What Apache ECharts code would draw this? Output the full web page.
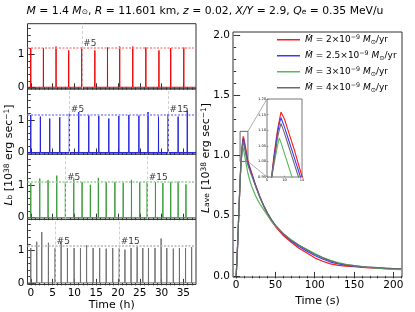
<!DOCTYPE html>
<html><head><meta charset="utf-8">
<script src="https://cdn.jsdelivr.net/npm/echarts@6/dist/echarts.min.js"></script>
<style>html,body{margin:0;padding:0;background:#fff}#c{width:415px;height:312px}</style>
</head><body><div id="c"></div>
<script>
// ---------------- DATA ----------------
// Left panels: burst times (h) and peak luminosities (1e38 erg/s)
const redTimes  = [0, 2.9, 5.8, 8.7, 11.7, 14.7, 17.6, 20.4, 23.4, 26.4, 29.4, 32.1, 35.1];
const redPeaks  = [1.20, 1.20, 1.25, 1.13, 1.22, 1.13, 1.22, 1.25, 1.25, 1.22, 1.13, 1.20, 1.22];
const redLevel  = 1.21;
const redMarks  = [5];

const blueTimes = [0, 2.2, 4.35, 6.65, 8.85, 11.0, 13.3, 15.6, 17.9, 20.2, 22.5, 24.8, 26.9, 29.3, 31.5, 33.8, 35.9];
const bluePeaks = [1.15, 1.10, 1.04, 1.08, 1.19, 1.24, 1.14, 1.12, 1.04, 1.12, 1.15, 1.13, 1.24, 1.10, 1.18, 1.10, 1.28];
const blueLevel = 1.16;
const blueMarks = [5, 15];

const greenTimes = [0, 2.06, 3.97, 5.96, 7.94, 9.86, 11.77, 13.67, 15.5, 17.3, 19.3, 21.2, 23.1, 25.0, 26.7, 28.6, 30.3, 32.1, 33.8, 35.6];
const greenPeaks = [1.06, 1.20, 1.15, 1.29, 1.09, 1.20, 1.09, 1.01, 1.22, 1.09, 1.09, 1.06, 1.16, 1.09, 1.09, 1.09, 1.06, 1.09, 1.11, 1.02];
const greenLevel = 1.10;
const greenMarks = [5, 15];

const grayTimes = [0, 1.37, 2.52, 4.05, 5.58, 6.96, 8.41, 9.94, 11.4, 12.8, 14.3, 15.8, 17.3, 18.8, 20.3, 21.6, 23.0, 24.4, 25.7, 27.0, 28.5, 29.9, 31.2, 32.7, 34.1, 35.5, 36.9];
const grayPeaks = [1.07, 1.26, 1.56, 1.23, 1.07, 1.25, 1.07, 1.07, 1.07, 1.15, 1.07, 1.07, 1.05, 1.07, 1.07, 1.02, 1.07, 1.10, 1.07, 1.07, 1.07, 1.36, 1.07, 1.05, 1.07, 1.07, 1.10];
const grayLevel = 1.13;
const grayMarks = [5, 15];

// Right panel: averaged burst light curves
const aveTime  = [0, 1, 2, 3, 4, 5, 6, 7, 8, 8.5, 9, 10, 11, 12, 13, 14, 15, 17.5, 20, 25, 30, 35, 40, 45, 50, 60, 70, 80, 90, 100, 110, 120, 130, 140, 150, 160, 170, 180, 190, 200, 210];
const aveRed   = [0, 0.12, 0.28, 0.45, 0.62, 0.78, 0.92, 1.02, 1.10, 1.13, 1.158, 1.135, 1.10, 1.065, 1.03, 0.99, 0.952, 0.90, 0.85, 0.75, 0.66, 0.58, 0.51, 0.455, 0.41, 0.335, 0.28, 0.23, 0.19, 0.15, 0.122, 0.10, 0.088, 0.081, 0.076, 0.071, 0.067, 0.064, 0.061, 0.059, 0.058];
const aveBlue  = [0, 0.12, 0.28, 0.45, 0.62, 0.78, 0.92, 1.01, 1.09, 1.12, 1.14, 1.11, 1.075, 1.04, 1.005, 0.97, 0.935, 0.89, 0.84, 0.745, 0.66, 0.585, 0.52, 0.465, 0.42, 0.345, 0.29, 0.245, 0.205, 0.17, 0.14, 0.115, 0.10, 0.088, 0.08, 0.074, 0.07, 0.066, 0.063, 0.06, 0.059];
const aveGreen = [0, 0.12, 0.28, 0.45, 0.62, 0.78, 0.93, 0.99, 1.05, 1.075, 1.06, 1.025, 0.99, 0.955, 0.92, 0.885, 0.85, 0.79, 0.74, 0.66, 0.60, 0.55, 0.50, 0.455, 0.415, 0.35, 0.30, 0.255, 0.22, 0.185, 0.155, 0.13, 0.11, 0.095, 0.085, 0.077, 0.07, 0.064, 0.058, 0.054, 0.052];
const aveGray  = [0, 0.12, 0.28, 0.45, 0.62, 0.78, 0.92, 1.00, 1.075, 1.10, 1.122, 1.09, 1.055, 1.02, 0.985, 0.95, 0.92, 0.875, 0.83, 0.74, 0.655, 0.585, 0.52, 0.465, 0.42, 0.35, 0.295, 0.255, 0.215, 0.18, 0.15, 0.125, 0.105, 0.092, 0.085, 0.078, 0.072, 0.068, 0.064, 0.061, 0.06];

const legendNames = ['2', '2.5', '3', '4'];   // Mdot in 1e-9 Msun/yr

// Tick labels
const hourTicks  = [0, 5, 10, 15, 20, 25, 30, 35];
const hourMinor  = [0,1,2,3,4,5,6,7,8,9,10,11,12,13,14,15,16,17,18,19,20,21,22,23,24,25,26,27,28,29,30,31,32,33,34,35,36,37];
const lbTicks    = [0, 1];
const lbMinor    = [0, 0.2, 0.4, 0.6, 0.8, 1.0, 1.2, 1.4, 1.6, 1.8];
const secTicks   = [0, 50, 100, 150, 200];
const secMinor   = [0,10,20,30,40,50,60,70,80,90,100,110,120,130,140,150,160,170,180,190,200,210];
const laveTicks  = [0, 0.5, 1.0, 1.5, 2.0];
const laveMinor  = [0,0.1,0.2,0.3,0.4,0.5,0.6,0.7,0.8,0.9,1.0,1.1,1.2,1.3,1.4,1.5,1.6,1.7,1.8,1.9,2.0];
const insetXTicks = [5, 10, 15];
const insetYTicks = [0.95, 1.00, 1.05, 1.10, 1.15, 1.20];

// ---------------- CHART ----------------
const F = 'DejaVu Sans';
const chart = echarts.init(document.getElementById('c'), null, {renderer: 'canvas'});

const panels = [
  {times: redTimes,   peaks: redPeaks,   level: redLevel,   marks: redMarks,   color: '#ee0000', lcol: '#ff8a8a'},
  {times: blueTimes,  peaks: bluePeaks,  level: blueLevel,  marks: blueMarks,  color: '#2222dd', lcol: '#8a8aff'},
  {times: greenTimes, peaks: greenPeaks, level: greenLevel, marks: greenMarks, color: '#3a9a3a', lcol: '#90d090'},
  {times: grayTimes,  peaks: grayPeaks,  level: grayLevel,  marks: grayMarks,  color: '#707070', lcol: '#b8b8b8'}
];

const LX0 = -0.75, LX1 = 37.9, LY0 = -0.05, LY1 = 1.95;
const panelTop = 23.7, panelH = 65.2, panelLeft = 27.5, panelW = 168.5;

const grids = [], xAxes = [], yAxes = [], series = [];
const axisLabelStyle = {color: '#000', fontFamily: F, fontSize: 10.5};

panels.forEach((p, i) => {
  grids.push({left: panelLeft, top: panelTop + i * panelH, width: panelW, height: panelH,
              show: true, borderColor: '#333', borderWidth: 1, backgroundColor: 'transparent'});
  const bottom = (i === 3);
  xAxes.push({type: 'value', gridIndex: i, min: LX0, max: LX1,
    axisLine: {show: false}, splitLine: {show: false},
    axisTick: {show: true, inside: true, length: 4, customValues: hourTicks, lineStyle: {color: '#333'}},
    axisLabel: bottom ? Object.assign({show: true, margin: 3, customValues: hourTicks}, axisLabelStyle) : {show: false},
    name: bottom ? 'Time (h)' : '', nameLocation: 'middle', nameGap: 15,
    nameTextStyle: {fontFamily: F, fontSize: 11, color: '#000'}});
  xAxes.push({type: 'value', gridIndex: i, min: LX0, max: LX1,
    axisLine: {show: false}, splitLine: {show: false}, axisLabel: {show: false},
    axisTick: {show: true, inside: true, length: 2.5, customValues: hourMinor, lineStyle: {color: '#333'}}});
  yAxes.push({type: 'value', gridIndex: i, min: LY0, max: LY1,
    axisLine: {show: false}, splitLine: {show: false},
    axisTick: {show: true, inside: true, length: 4, customValues: lbTicks, lineStyle: {color: '#333'}},
    axisLabel: Object.assign({show: true, margin: 3, customValues: lbTicks}, axisLabelStyle)});
  yAxes.push({type: 'value', gridIndex: i, min: LY0, max: LY1,
    axisLine: {show: false}, splitLine: {show: false}, axisLabel: {show: false},
    axisTick: {show: true, inside: true, length: 2.5, customValues: lbMinor, lineStyle: {color: '#333'}}});

  // light curve: zero baseline with spikes at each burst
  const eps = 0.02;
  const d = [[LX0, 0]];
  p.times.forEach((t, k) => { d.push([t - eps, 0], [t, p.peaks[k]], [t + eps, 0]); });
  d.push([LX1, 0]);

  series.push({type: 'line', xAxisIndex: 2 * i, yAxisIndex: 2 * i, data: d, showSymbol: false,
    lineStyle: {color: p.color, width: 1}, z: 3, silent: true,
    markLine: {silent: true, symbol: 'none', label: {show: false},
      data: [{yAxis: p.level, lineStyle: {color: p.lcol, type: [2, 1.5], width: 1.5}}]
        .concat(p.marks.map(m => ({xAxis: p.times[m - 1], lineStyle: {color: '#cccccc', type: [3, 2], width: 0.9}})))}});
  // "#N" labels
  series.push({type: 'scatter', xAxisIndex: 2 * i, yAxisIndex: 2 * i, symbolSize: 0, silent: true, z: 5,
    data: p.marks.map(m => ({value: [p.times[m - 1], p.level], name: '#' + m})),
    label: {show: true, formatter: '{b}', position: [1.5, 0], align: 'left', verticalAlign: 'bottom',
      fontFamily: F, fontSize: 9, color: '#000'}});
});

// Right main panel
const RX0 = -4, RX1 = 211, RY0 = -0.01, RY1 = 2.025;
grids.push({left: 233, top: 32, width: 169, height: 252.5, show: true, borderColor: '#333', borderWidth: 1, backgroundColor: 'transparent'});
xAxes.push({type: 'value', gridIndex: 4, min: RX0, max: RX1, axisLine: {show: false}, splitLine: {show: false},
  axisTick: {show: true, inside: true, length: 4, customValues: secTicks, lineStyle: {color: '#333'}},
  axisLabel: Object.assign({show: true, margin: 3, customValues: secTicks}, axisLabelStyle),
  name: 'Time (s)', nameLocation: 'middle', nameGap: 15, nameTextStyle: {fontFamily: F, fontSize: 11, color: '#000'}});
xAxes.push({type: 'value', gridIndex: 4, min: RX0, max: RX1, axisLine: {show: false}, splitLine: {show: false}, axisLabel: {show: false},
  axisTick: {show: true, inside: true, length: 2.5, customValues: secMinor, lineStyle: {color: '#333'}}});
yAxes.push({type: 'value', gridIndex: 4, min: RY0, max: RY1, axisLine: {show: false}, splitLine: {show: false},
  axisTick: {show: true, inside: true, length: 4, customValues: laveTicks, lineStyle: {color: '#333'}},
  axisLabel: Object.assign({show: true, margin: 3, customValues: laveTicks, formatter: v => v.toFixed(1)}, axisLabelStyle)});
yAxes.push({type: 'value', gridIndex: 4, min: RY0, max: RY1, axisLine: {show: false}, splitLine: {show: false}, axisLabel: {show: false},
  axisTick: {show: true, inside: true, length: 2.5, customValues: laveMinor, lineStyle: {color: '#333'}}});

// Inset
grids.push({left: 267, top: 99, width: 35, height: 78, show: true, borderColor: '#555', borderWidth: 0.8, backgroundColor: '#fff'});
const tiny = {color: '#000', fontFamily: F, fontSize: 3.6};
xAxes.push({type: 'value', gridIndex: 5, min: 5, max: 15, axisLine: {show: false}, splitLine: {show: false},
  axisTick: {show: true, inside: true, length: 1.5, customValues: insetXTicks, lineStyle: {color: '#555', width: 0.5}},
  axisLabel: Object.assign({show: true, margin: 1, customValues: insetXTicks}, tiny)});
yAxes.push({type: 'value', gridIndex: 5, min: 0.95, max: 1.20, axisLine: {show: false}, splitLine: {show: false},
  axisTick: {show: true, inside: true, length: 1.5, customValues: insetYTicks, lineStyle: {color: '#555', width: 0.5}},
  axisLabel: Object.assign({show: true, margin: 1, customValues: insetYTicks, formatter: v => v.toFixed(2)}, tiny)});

const aveSets = [
  {vals: aveRed,   color: '#ff1a1a', name: legendNames[0]},
  {vals: aveBlue,  color: '#3a3aff', name: legendNames[1]},
  {vals: aveGreen, color: '#5cb85c', name: legendNames[2]},
  {vals: aveGray,  color: '#6a6a6a', name: legendNames[3]}
];
aveSets.forEach((s, k) => {
  const d = aveTime.map((t, j) => [t, s.vals[j]]);
  series.push({type: 'line', name: s.name, xAxisIndex: 8, yAxisIndex: 8, data: d, showSymbol: false, silent: true,
    color: s.color, lineStyle: {color: s.color, width: 1.2}, z: 3 + k,
    markArea: k === 0 ? {silent: true, itemStyle: {color: 'rgba(0,0,0,0)', borderColor: '#444', borderWidth: 0.8},
      data: [[{coord: [5, 0.95]}, {coord: [15, 1.20]}]]} : undefined});
  series.push({type: 'line', name: s.name, xAxisIndex: 10, yAxisIndex: 10, data: d, showSymbol: false, silent: true,
    clip: true, color: s.color, lineStyle: {color: s.color, width: 1.1}, z: 10 + k});
});

const legRich = {
  i: {fontFamily: F, fontSize: 9, fontStyle: 'italic', color: '#000'},
  n: {fontFamily: F, fontSize: 9, color: '#000'},
  sup: {fontFamily: F, fontSize: 6.3, color: '#000', verticalAlign: 'top'},
  sub: {fontFamily: F, fontSize: 6.3, color: '#000', verticalAlign: 'bottom'}
};

const option = {
  animation: false,
  backgroundColor: '#fff',
  grid: grids, xAxis: xAxes, yAxis: yAxes, series: series,
  legend: {show: true, orient: 'vertical', left: 272, top: 29, itemWidth: 23, itemHeight: 1.5, itemGap: 4.5,
    icon: 'rect', data: legendNames,
    formatter: n => '{i|Ṁ}{n| = ' + n + '×10}{sup|−9}{n| }{i|M}{sub|⊙}{n|/yr}',
    textStyle: {rich: legRich, lineHeight: 11.5, padding: [0, 0, 0, 0]}},
  graphic: [
    {type: 'text', x: 205, y: 11, style: {
      text: '{i|M}{n| = 1.4 }{i|M}{sub|⊙}{n|, }{i|R}{n| = 11.601 km, }{i|z}{n| = 0.02, }{i|X/Y}{n| = 2.9, }{i|Q}{sub|e}{n| = 0.35 MeV/u}',
      align: 'center', verticalAlign: 'middle',
      rich: {
        i: {fontFamily: F, fontSize: 10.8, fontStyle: 'italic', fill: '#000'},
        n: {fontFamily: F, fontSize: 10.8, fill: '#000'},
        sub: {fontFamily: F, fontSize: 7.5, fill: '#000', verticalAlign: 'bottom'}
      }}},
    {type: 'text', x: 9, y: 155, rotation: Math.PI / 2, style: {
      text: '{i|L}{sub|b}{n| [10}{sup|38}{n| erg sec}{sup|−1}{n|]}', align: 'center', verticalAlign: 'middle',
      rich: {
        i: {fontFamily: F, fontSize: 11, fontStyle: 'italic', fill: '#000'},
        n: {fontFamily: F, fontSize: 11, fill: '#000'},
        sup: {fontFamily: F, fontSize: 7.5, fill: '#000', verticalAlign: 'top'},
        sub: {fontFamily: F, fontSize: 7.5, fill: '#000', verticalAlign: 'bottom'}
      }}},
    {type: 'text', x: 206, y: 158, rotation: Math.PI / 2, style: {
      text: '{i|L}{sub|ave}{n| [10}{sup|38}{n| erg sec}{sup|−1}{n|]}', align: 'center', verticalAlign: 'middle',
      rich: {
        i: {fontFamily: F, fontSize: 11, fontStyle: 'italic', fill: '#000'},
        n: {fontFamily: F, fontSize: 11, fill: '#000'},
        sup: {fontFamily: F, fontSize: 7.5, fill: '#000', verticalAlign: 'top'},
        sub: {fontFamily: F, fontSize: 7.5, fill: '#000', verticalAlign: 'bottom'}
      }}}
  ]
};
chart.setOption(option);

// connector lines between zoom box and inset, computed through the axes
const pMainTop = chart.convertToPixel({xAxisIndex: 8, yAxisIndex: 8}, [15, 1.20]);
const pMainBot = chart.convertToPixel({xAxisIndex: 8, yAxisIndex: 8}, [15, 0.95]);
const pInTop = chart.convertToPixel({xAxisIndex: 10, yAxisIndex: 10}, [5, 1.20]);
const pInBot = chart.convertToPixel({xAxisIndex: 10, yAxisIndex: 10}, [5, 0.95]);
chart.setOption({graphic: option.graphic.concat([
  {type: 'line', shape: {x1: pMainTop[0], y1: pMainTop[1], x2: pInTop[0], y2: pInTop[1]}, style: {stroke: '#999', lineWidth: 0.8}, z: 1},
  {type: 'line', shape: {x1: pMainBot[0], y1: pMainBot[1], x2: pInBot[0], y2: pInBot[1]}, style: {stroke: '#999', lineWidth: 0.8}, z: 1}
])});
</script></body></html>
